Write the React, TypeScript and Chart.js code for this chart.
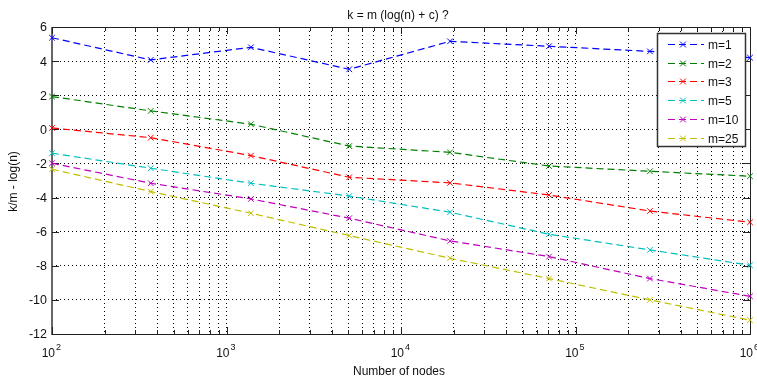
import React, { useEffect, useRef } from 'react';
import { Chart, registerables } from 'chart.js';

Chart.register(...registerables);

// ---- data ----
const nodes = [100, 368, 1380, 5050, 19100, 70500, 267000, 1000000];
const seriesLabels = ['m=1', 'm=2', 'm=3', 'm=5', 'm=10', 'm=25'];
const m1 = [5.37, 4.07, 4.81, 3.52, 5.16, 4.87, 4.57, 4.2];
const m2 = [1.92, 1.08, 0.3, -0.98, -1.35, -2.15, -2.46, -2.75];
const m3 = [0.08, -0.49, -1.54, -2.81, -3.14, -3.85, -4.79, -5.45];
const m5 = [-1.4, -2.28, -3.16, -3.91, -4.86, -6.15, -7.07, -7.97];
const m10 = [-1.99, -3.16, -4.08, -5.21, -6.54, -7.46, -8.75, -9.79];
const m25 = [-2.34, -3.65, -4.92, -6.23, -7.56, -8.75, -10.0, -11.19];
const seriesColors = ['#0000ff', '#008000', '#ff0000', '#00bfbf', '#bf00bf', '#bfbf00'];

const decadeTicks = [100, 1000, 10000, 100000, 1000000];
const decadeExponents = ['2', '3', '4', '5', '6'];
const minorMultipliers = [2, 3, 4, 5, 6, 7, 8, 9];
const yTicks = [-12, -10, -8, -6, -4, -2, 0, 2, 4, 6];

const titleText = 'k = m (log(n) + c) ?';
const xTitle = 'Number of nodes';
const yTitle = 'k/m - log(n)';

const FONT = "'Liberation Sans', Arial, Helvetica, sans-serif";
const LINE_DASH = [7, 4];

const xTickValues: number[] = [];
decadeTicks.forEach((d, i) => {
  xTickValues.push(d);
  if (i < decadeTicks.length - 1) minorMultipliers.forEach((m) => xTickValues.push(d * m));
});
xTickValues.sort((a, b) => a - b);

const axesPlugin = {
  id: 'matlabAxes',
  beforeDatasetsDraw(chart: any) {
    const { ctx, chartArea: ca, scales } = chart;
    const xs = scales.x;
    const ys = scales.y;
    ctx.save();
    // box
    ctx.strokeStyle = '#222';
    ctx.lineWidth = 1;
    ctx.beginPath();
    ctx.moveTo(ca.left, Math.round(ca.top) + 0.5);
    ctx.lineTo(ca.right, Math.round(ca.top) + 0.5);
    ctx.moveTo(Math.round(ca.right) + 0.5, ca.top);
    ctx.lineTo(Math.round(ca.right) + 0.5, ca.bottom);
    ctx.moveTo(ca.left, Math.round(ca.bottom) + 0.5);
    ctx.lineTo(ca.right + 1, Math.round(ca.bottom) + 0.5);
    ctx.stroke();
    ctx.strokeStyle = '#666';
    ctx.lineWidth = 2;
    ctx.beginPath();
    ctx.moveTo(Math.round(ca.left), ca.top);
    ctx.lineTo(Math.round(ca.left), ca.bottom + 1);
    ctx.stroke();

    // tick marks
    ctx.strokeStyle = '#222';
    ctx.lineWidth = 1;
    ctx.beginPath();
    xTickValues.forEach((v) => {
      const px = Math.round(xs.getPixelForValue(v)) + 0.5;
      const len = decadeTicks.includes(v) ? 7 : 4;
      ctx.moveTo(px, ca.bottom);
      ctx.lineTo(px, ca.bottom - len);
      ctx.moveTo(px, ca.top);
      ctx.lineTo(px, ca.top + len);
    });
    yTicks.forEach((v) => {
      const py = Math.round(ys.getPixelForValue(v)) + 0.5;
      ctx.moveTo(ca.left, py);
      ctx.lineTo(ca.left + 7, py);
      ctx.moveTo(ca.right, py);
      ctx.lineTo(ca.right - 7, py);
    });
    ctx.stroke();

    // y tick labels
    ctx.fillStyle = '#111';
    ctx.font = `12.5px ${FONT}`;
    ctx.textAlign = 'right';
    ctx.textBaseline = 'middle';
    yTicks.forEach((v) => {
      ctx.fillText(String(v), ca.left - 5, ys.getPixelForValue(v) + 1);
    });

    // x tick labels (10^n)
    decadeTicks.forEach((v, i) => {
      const px = xs.getPixelForValue(v);
      ctx.font = `12px ${FONT}`;
      ctx.textAlign = 'right';
      ctx.textBaseline = 'alphabetic';
      ctx.fillText('10', px + 3, 357);
      ctx.font = `9px ${FONT}`;
      ctx.textAlign = 'left';
      ctx.fillText(decadeExponents[i], px + 4, 350);
    });

    // titles
    ctx.font = `12px ${FONT}`;
    ctx.textAlign = 'center';
    ctx.textBaseline = 'alphabetic';
    ctx.fillText(titleText, (ca.left + ca.right) / 2 - 3, 18.5);
    ctx.fillText(xTitle, (ca.left + ca.right) / 2 - 2, 375);
    ctx.save();
    ctx.translate(14, (ca.top + ca.bottom) / 2 + 1);
    ctx.rotate(-Math.PI / 2);
    ctx.textBaseline = 'middle';
    ctx.fillText(yTitle, 0, 0);
    ctx.restore();
    ctx.restore();
  },
  afterDraw(chart: any) {
    const { ctx } = chart;
    const bx = 657, by = 33, bw = 88, bh = 113;
    ctx.save();
    ctx.fillStyle = '#fff';
    ctx.fillRect(bx, by, bw, bh);
    ctx.strokeStyle = '#333';
    ctx.lineWidth = 1.5;
    ctx.strokeRect(bx + 0.5, by + 0.5, bw, bh);
    chart.data.datasets.forEach((ds: any, i: number) => {
      const cy = Math.round(44 + i * 18.7) + 0.5;
      ctx.strokeStyle = ds.borderColor;
      ctx.lineWidth = 1.2;
      ctx.setLineDash(LINE_DASH);
      ctx.beginPath();
      ctx.moveTo(668, cy);
      ctx.lineTo(704, cy);
      ctx.stroke();
      ctx.setLineDash([]);
      ctx.lineWidth = 1;
      const r = 2.9;
      const cx = 683;
      ctx.beginPath();
      ctx.moveTo(cx - r, cy - r);
      ctx.lineTo(cx + r, cy + r);
      ctx.moveTo(cx - r, cy + r);
      ctx.lineTo(cx + r, cy - r);
      ctx.stroke();
      ctx.fillStyle = '#111';
      ctx.font = `12px ${FONT}`;
      ctx.textAlign = 'left';
      ctx.textBaseline = 'middle';
      ctx.fillText(ds.label, 708, cy + 1.5);
    });
    ctx.restore();
  },
};

export default function App() {
  const ref = useRef<HTMLCanvasElement>(null);
  useEffect(() => {
    const canvas = ref.current!;
    const all = [m1, m2, m3, m5, m10, m25];
    const datasets = all.map((d, i) => ({
      label: seriesLabels[i],
      data: nodes.map((x, j) => ({ x, y: d[j] })),
      borderColor: seriesColors[i],
      backgroundColor: seriesColors[i],
      borderWidth: 1.2,
      borderDash: LINE_DASH,
      pointStyle: 'crossRot',
      pointRadius: 4,
      pointBorderWidth: 1,
      pointBorderColor: seriesColors[i],
      fill: false,
      tension: 0,
      clip: false,
    }));
    const chart = new Chart(canvas, {
      type: 'line',
      data: { datasets } as any,
      options: {
        responsive: false,
        animation: false,
        devicePixelRatio: 1,
        layout: { padding: { left: 52, top: 27, right: 7, bottom: 48 } },
        plugins: {
          legend: { display: false },
          title: { display: false },
          tooltip: { enabled: false },
        },
        scales: {
          x: {
            type: 'logarithmic',
            min: 100,
            max: 1000000,
            afterBuildTicks: (s: any) => {
              s.ticks = xTickValues.map((v) => ({ value: v }));
            },
            ticks: { display: false, autoSkip: false },
            grid: { color: '#000', lineWidth: 1, drawTicks: false },
            border: { display: false, dash: [1, 3] },
          },
          y: {
            type: 'linear',
            min: -12,
            max: 6,
            afterBuildTicks: (s: any) => {
              s.ticks = yTicks.map((v) => ({ value: v }));
            },
            ticks: { display: false },
            grid: { color: '#000', lineWidth: 1, drawTicks: false },
            border: { display: false, dash: [1, 3] },
          },
        },
      } as any,
      plugins: [axesPlugin],
    });
    return () => chart.destroy();
  }, []);
  return (
    <div style={{ position: 'absolute', left: 0, top: 0, width: 757, height: 382, background: '#fff' }}>
      <canvas ref={ref} width={757} height={382} style={{ display: 'block', width: 757, height: 382 }} />
    </div>
  );
}
